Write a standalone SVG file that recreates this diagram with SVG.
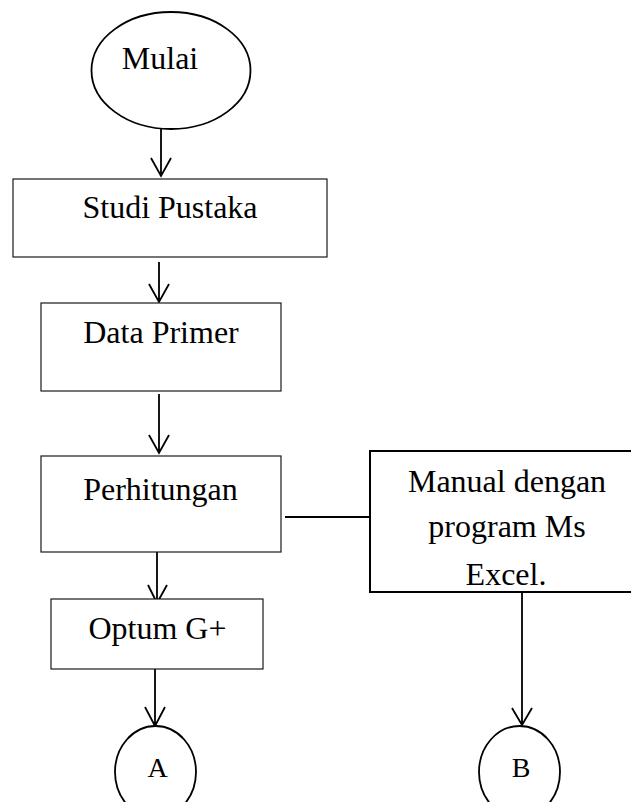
<svg xmlns="http://www.w3.org/2000/svg" width="631" height="802" viewBox="0 0 631 802">
<style>
  .box { fill: #ffffff; stroke: #1a1a1a; stroke-width: 1.2; }
  .boxb { fill: #ffffff; stroke: #000000; stroke-width: 2; }
  .term { fill: #ffffff; stroke: #000000; stroke-width: 1.8; }
  .lbl { font-family: "Liberation Serif", "Times New Roman", serif; font-size: 32px; fill: #000000; text-anchor: middle; }
  .sm { font-size: 28px; }
  .line { fill: none; stroke: #000000; stroke-width: 1.8; }
</style>
<rect width="631" height="802" fill="#ffffff"/>

<g id="connectors">
  <path class="line" d="M161,129 V176 M151,158 L161,176 L171,158"/>
  <path class="line" d="M159,262 V302 M149,284 L159,302 L169,284"/>
  <path class="line" d="M159,394 V453 M149,435 L159,453 L169,435"/>
  <path class="line" d="M157,544 V603 M148,585 L157,603 L167,585"/>
  <path class="line" d="M155,667 V726 M145,707 L155,726 L165,707"/>
  <path class="line" d="M285,517 H370"/>
  <path class="line" d="M522,592 V725 M512,708 L522,725 L532,708"/>
</g>

<g id="mulai">
  <ellipse class="term" cx="171" cy="70.5" rx="79.5" ry="58.5"/>
  <text class="lbl" x="160" y="69">Mulai</text>
</g>

<g id="studi-pustaka">
  <rect class="box" x="13" y="179" width="314" height="78"/>
  <text class="lbl" x="170" y="218">Studi Pustaka</text>
</g>

<g id="data-primer">
  <rect class="box" x="41" y="303" width="240" height="88"/>
  <text class="lbl" x="161" y="343">Data Primer</text>
</g>

<g id="perhitungan">
  <rect class="box" x="41" y="456" width="240" height="96"/>
  <text class="lbl" x="160.5" y="500">Perhitungan</text>
</g>

<g id="manual">
  <rect class="boxb" x="370" y="451" width="274" height="141"/>
  <text class="lbl" x="507" y="492">Manual dengan</text>
  <text class="lbl" x="507" y="537">program Ms</text>
  <text class="lbl" x="506" y="585">Excel.</text>
</g>

<g id="optum">
  <rect class="box" x="51" y="599" width="212" height="70"/>
  <text class="lbl" x="157.5" y="639">Optum G+</text>
</g>

<g id="conn-a">
  <ellipse class="term" cx="155.5" cy="772" rx="40.5" ry="46"/>
  <text class="lbl sm" x="157.5" y="777">A</text>
</g>

<g id="conn-b">
  <ellipse class="term" cx="519.5" cy="772" rx="40.5" ry="46"/>
  <text class="lbl sm" x="521" y="777">B</text>
</g>
</svg>
